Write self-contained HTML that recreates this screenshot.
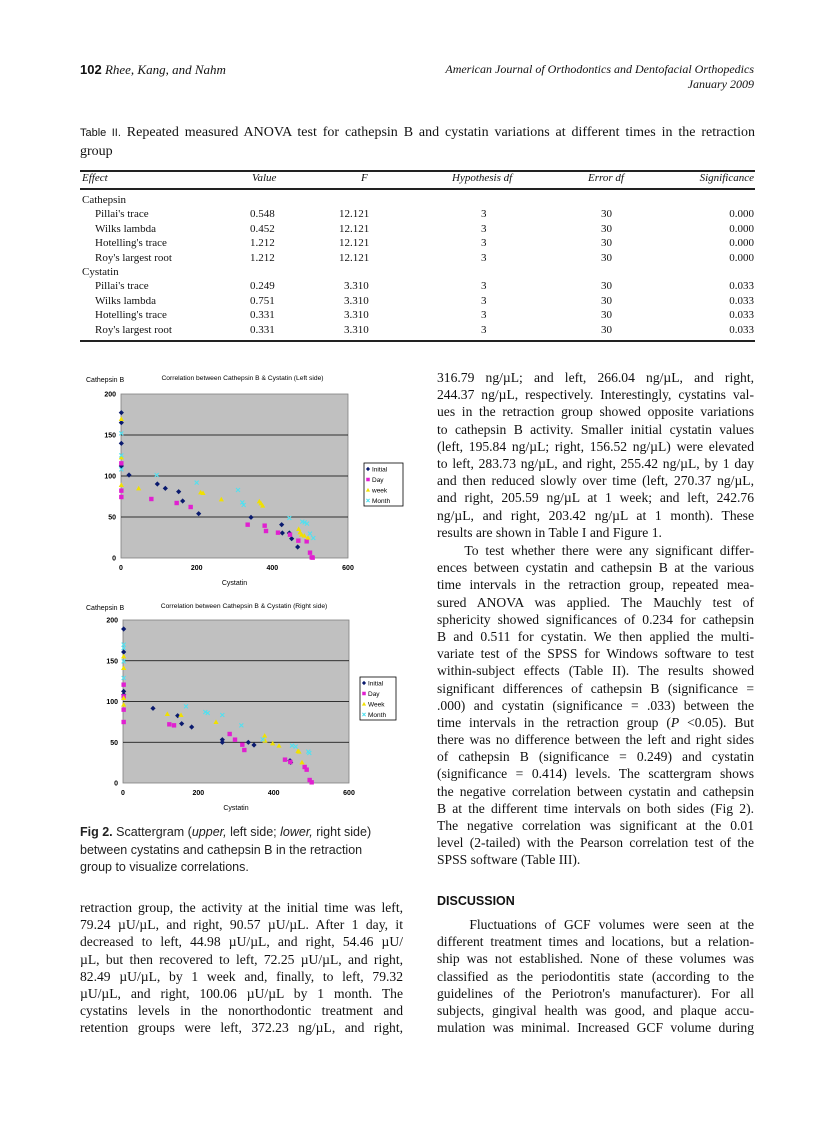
<!DOCTYPE html>
<html><head><meta charset="utf-8"><style>
body{margin:0;width:838px;height:1122px;background:#fff;position:relative;font-family:"Liberation Serif",serif;color:#111;overflow:hidden}
.a{position:absolute;white-space:nowrap}
.blk{position:absolute;line-height:17.2px;font-size:13.6px}
.blk div{text-align:justify;text-align-last:justify;height:17.2px;overflow:visible;white-space:nowrap;word-spacing:0}
.blk div.l{text-align-last:left}
.t{position:absolute;font-size:11px;white-space:nowrap}
.sans{font-family:"Liberation Sans",sans-serif}
</style></head><body>
<div class="a" style="left:80px;top:62px;font-size:13px"><b class="sans">102</b> <i style="font-size:13px">Rhee, Kang, and Nahm</i></div>
<div class="a" style="right:84px;top:62px;font-size:12px;font-style:italic;text-align:right;line-height:15px">American Journal of Orthodontics and Dentofacial Orthopedics<br>January 2009</div>
<div class="blk" style="left:80px;top:124px;width:675px;font-size:14px;line-height:18.5px">
<div style="height:18.5px"><span class="sans" style="font-size:11px">Table II.</span> Repeated measured ANOVA test for cathepsin B and cystatin variations at different times in the retraction</div>
<div class="l">group</div></div>
<div class="a" style="left:80px;top:170px;width:675px;height:2px;background:#222"></div>
<div class="a" style="left:80px;top:188px;width:675px;height:1.5px;background:#222"></div>
<div class="a" style="left:80px;top:340px;width:675px;height:1.5px;background:#222"></div>
<div class="t" style="left:82px;top:172px;font-style:italic">Effect</div>
<div class="t" style="left:252px;top:172px;font-style:italic">Value</div>
<div class="t" style="left:361px;top:172px;font-style:italic">F</div>
<div class="t" style="left:452px;top:172px;font-style:italic">Hypothesis df</div>
<div class="t" style="left:588px;top:172px;font-style:italic">Error df</div>
<div class="t" style="right:84px;top:172px;font-style:italic">Significance</div>
<div id="tbl"></div>
<svg class="a" style="left:0;top:0" width="838" height="1122" id="sv" font-family="Liberation Sans, sans-serif"></svg>

<div class="blk" style="left:437px;top:369px;width:317px">
<div>316.79 ng/µL; and left, 266.04 ng/µL, and right,</div>
<div>244.37 ng/µL, respectively. Interestingly, cystatins val-</div>
<div>ues in the retraction group showed opposite variations</div>
<div>to cathepsin B activity. Smaller initial cystatin values</div>
<div>(left, 195.84 ng/µL; right, 156.52 ng/µL) were elevated</div>
<div>to left, 283.73 ng/µL, and right, 255.42 ng/µL, by 1 day</div>
<div>and then reduced slowly over time (left, 270.37 ng/µL,</div>
<div>and right, 205.59 ng/µL at 1 week; and left, 242.76</div>
<div>ng/µL, and right, 203.42 ng/µL at 1 month). These</div>
<div class="l">results are shown in Table I and Figure 1.</div>
</div>
<div class="blk" style="left:437px;top:542px;width:317px">
<div>&nbsp;&nbsp;&nbsp;&nbsp;To test whether there were any significant differ-</div>
<div>ences between cystatin and cathepsin B at the various</div>
<div>time intervals in the retraction group, repeated mea-</div>
<div>sured ANOVA was applied. The Mauchly test of</div>
<div>sphericity showed significances of 0.234 for cathepsin</div>
<div>B and 0.511 for cystatin. We then applied the multi-</div>
<div>variate test of the SPSS for Windows software to test</div>
<div>within-subject effects (Table II). The results showed</div>
<div>significant differences of cathepsin B (significance =</div>
<div>.000) and cystatin (significance = .033) between the</div>
<div>time intervals in the retraction group (<i>P</i> &lt;0.05). But</div>
<div>there was no difference between the left and right sides</div>
<div>of cathepsin B (significance = 0.249) and cystatin</div>
<div>(significance = 0.414) levels. The scattergram shows</div>
<div>the negative correlation between cystatin and cathepsin</div>
<div>B at the different time intervals on both sides (Fig 2).</div>
<div>The negative correlation was significant at the 0.01</div>
<div>level (2-tailed) with the Pearson correlation test of the</div>
<div class="l">SPSS software (Table III).</div>
</div>
<div class="a sans" style="left:437px;top:894px;font-size:12.5px;font-weight:bold">DISCUSSION</div>
<div class="blk" style="left:437px;top:916px;width:317px">
<div>&nbsp;&nbsp;&nbsp;&nbsp;Fluctuations of GCF volumes were seen at the</div>
<div>different treatment times and locations, but a relation-</div>
<div>ship was not established. None of these volumes was</div>
<div>classified as the periodontitis state (according to the</div>
<div>guidelines of the Periotron's manufacturer). For all</div>
<div>subjects, gingival health was good, and plaque accu-</div>
<div>mulation was minimal. Increased GCF volume during</div>
</div>
<div class="blk" style="left:80px;top:899px;width:323px">
<div>retraction group, the activity at the initial time was left,</div>
<div>79.24 µU/µL, and right, 90.57 µU/µL. After 1 day, it</div>
<div>decreased to left, 44.98 µU/µL, and right, 54.46 µU/</div>
<div>µL, but then recovered to left, 72.25 µU/µL, and right,</div>
<div>82.49 µU/µL, by 1 week and, finally, to left, 79.32</div>
<div>µU/µL, and right, 100.06 µU/µL by 1 month. The</div>
<div>cystatins levels in the nonorthodontic treatment and</div>
<div>retention groups were left, 372.23 ng/µL, and right,</div>
</div>
<div class="a sans" style="left:80px;top:824px;font-size:12.5px;line-height:17.5px;color:#222">
<b>Fig 2.</b> Scattergram (<i>upper,</i> left side; <i>lower,</i> right side)<br>between cystatins and cathepsin B in the retraction<br>group to visualize correlations.</div>

<script>
var rows=[["Cathepsin"],["Pillai's trace","0.548","12.121","3","30","0.000"],["Wilks lambda","0.452","12.121","3","30","0.000"],["Hotelling's trace","1.212","12.121","3","30","0.000"],["Roy's largest root","1.212","12.121","3","30","0.000"],["Cystatin"],["Pillai's trace","0.249","3.310","3","30","0.033"],["Wilks lambda","0.751","3.310","3","30","0.033"],["Hotelling's trace","0.331","3.310","3","30","0.033"],["Roy's largest root","0.331","3.310","3","30","0.033"]];
var h="";rows.forEach(function(r,i){var y=194+i*14.4;
if(r.length==1){h+='<div class="t" style="left:82px;top:'+y+'px">'+r[0]+'</div>';}else{
h+='<div class="t" style="left:95px;top:'+y+'px">'+r[0]+'</div><div class="t" style="left:250px;top:'+y+'px">'+r[1]+'</div><div class="t" style="left:'+(r[2].length>5?339:344)+'px;top:'+y+'px">'+r[2]+'</div><div class="t" style="left:481px;top:'+y+'px">'+r[3]+'</div><div class="t" style="left:601px;top:'+y+'px">'+r[4]+'</div><div class="t" style="right:84px;top:'+y+'px">'+r[5]+'</div>';}});
document.getElementById('tbl').innerHTML=h;
var s="";
function chart(oy,x0,x1,y0,y1,title,pts,lg,leg){
 s+='<rect x="'+x0+'" y="'+y0+'" width="'+(x1-x0)+'" height="'+(y1-y0)+'" fill="#c0c0c0" stroke="#808080" stroke-width="0.8"/>';
 for(var k=1;k<4;k++){var yy=y1-(y1-y0)*k/4;s+='<line x1="'+x0+'" x2="'+x1+'" y1="'+yy+'" y2="'+yy+'" stroke="#000" stroke-width="0.8"/>';}
 for(k=0;k<5;k++){var yy=y1-(y1-y0)*k/4;s+='<text x="'+(x0-5)+'" y="'+(yy+2.5)+'" font-size="7" text-anchor="end" font-weight="bold">'+(k*50)+'</text>';}
 for(k=0;k<4;k++){var xx=x0+(x1-x0)*k/3;s+='<text x="'+xx+'" y="'+(y1+12)+'" font-size="7" text-anchor="middle" font-weight="bold">'+(k*200)+'</text>';}
 s+='<text x="'+((x0+x1)/2)+'" y="'+(y1+27)+'" font-size="7" text-anchor="middle">Cystatin</text>';
 s+='<text x="86" y="'+(oy+12)+'" font-size="7">Cathepsin B</text>';
 s+='<text x="'+((x0+x1)/2+8)+'" y="'+(oy+10)+'" font-size="6.7" text-anchor="middle">'+title+'</text>';
 var cols=["#0a1a6e","#e020d0","#f0e000","#50e0f0"];
 pts.forEach(function(arr,si){arr.forEach(function(p){var x=80+p[0]/3,y=oy+p[1]/3;s+=mk(si,x,y,cols[si]);});});
 s+='<rect x="'+lg[0]+'" y="'+lg[1]+'" width="'+lg[2]+'" height="'+lg[3]+'" fill="#fff" stroke="#000" stroke-width="0.8"/>';
 for(k=0;k<4;k++){var yy=lg[1]+6+k*10.5;s+=mk(k,lg[0]+4,yy,cols[k],0.8)+'<text x="'+(lg[0]+8)+'" y="'+(yy+2.5)+'" font-size="6.5">'+leg[k]+'</text>';}
}
function mk(t,x,y,c,sc){sc=sc||1;var r=2.6*sc;
 if(t==0)return '<polygon points="'+x+','+(y-r)+' '+(x+r)+','+y+' '+x+','+(y+r)+' '+(x-r)+','+y+'" fill="'+c+'"/>';
 if(t==1)return '<rect x="'+(x-2.2*sc)+'" y="'+(y-2.2*sc)+'" width="'+4.4*sc+'" height="'+4.4*sc+'" fill="'+c+'"/>';
 if(t==2)return '<polygon points="'+x+','+(y-r)+' '+(x+r)+','+(y+2*sc)+' '+(x-r)+','+(y+2*sc)+'" fill="'+c+'"/>';
 return '<path d="M'+(x-2*sc)+' '+(y-2*sc)+'L'+(x+2*sc)+' '+(y+2*sc)+'M'+(x+2*sc)+' '+(y-2*sc)+'L'+(x-2*sc)+' '+(y+2*sc)+'" stroke="'+c+'" stroke-width="1.1"/>';}
chart(370,121,348,394,558,"Correlation between Cathepsin B &amp; Cystatin (Left side)",[
[[124,128],[124,158],[124,220],[124,288],[147,315],[232,342],[256,355],[296,365],[308,393],[356,431],[513,442],[605,464],[607,489],[628,489],[635,506],[653,531]],
[[124,362],[124,381],[124,280],[214,387],[290,399],[332,411],[503,464],[554,467],[558,483],[594,488],[630,494],[655,512],[680,514],[690,548],[695,562],[698,563]],
[[124,147],[124,262],[124,345],[176,355],[362,367],[369,369],[424,388],[538,394],[543,400],[548,407],[656,477],[660,487],[665,494],[673,497],[684,503]],
[[124,190],[124,256],[124,298],[230,315],[350,338],[474,360],[487,397],[491,405],[628,444],[667,455],[674,457],[681,461],[690,491],[700,504]]],
[364,463,39,43],["Initial","Day","week","Month"]);
chart(598,123,349,620,783,"Correlation between Cathepsin B &amp; Cystatin (Right side)",[
[[131,93],[131,162],[131,280],[131,290],[219,331],[293,353],[305,377],[335,387],[427,425],[427,433],[505,433],[522,441],[630,488],[632,493]],
[[131,260],[131,295],[131,335],[131,372],[268,379],[282,382],[449,408],[465,425],[487,440],[493,456],[615,485],[631,492],[674,507],[680,515],[689,546],[695,553]],
[[131,175],[131,210],[131,300],[131,320],[262,348],[303,351],[408,372],[554,413],[555,428],[578,436],[597,443],[654,459],[657,461],[666,493]],
[[131,140],[131,150],[131,190],[131,240],[318,325],[376,342],[383,345],[427,351],[484,382],[548,424],[636,443],[647,446],[685,461],[688,465]]],
[360,677,36,43],["Initial","Day","Week","Month"]);
document.getElementById('sv').innerHTML=s;
</script>
</body></html>
